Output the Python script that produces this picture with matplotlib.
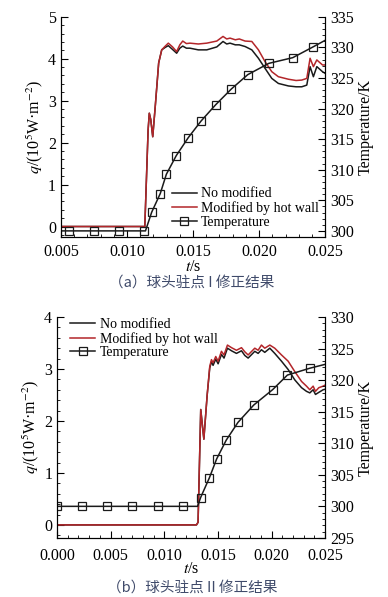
import matplotlib
matplotlib.use("Agg")
import matplotlib.pyplot as plt
from matplotlib.ticker import MultipleLocator, FormatStrFormatter

plt.rcParams['font.family'] = ['Liberation Serif', 'DejaVu Serif']
plt.rcParams['mathtext.fontset'] = 'stix'

# ---- panel (a) data ----
t_a = [0.005, 0.01135, 0.01160, 0.01169, 0.01180, 0.01195, 0.01215, 0.01240, 0.01263,
       0.01290, 0.01313, 0.01345, 0.01376, 0.01400, 0.01422, 0.01450, 0.01477, 0.01540,
       0.01604, 0.01680, 0.01727, 0.01755, 0.01780, 0.01820, 0.01850, 0.01894, 0.01945,
       0.01995, 0.02045, 0.02096, 0.02146, 0.02222, 0.02280, 0.02323, 0.02361, 0.02386,
       0.02411, 0.02437, 0.02480, 0.025]
q_hot_a = [0.0, 0.0, 2.30, 2.70, 2.55, 2.14, 2.90, 3.90, 4.21,
           4.30, 4.37, 4.28, 4.17, 4.33, 4.42, 4.36, 4.37, 4.35,
           4.37, 4.42, 4.53, 4.47, 4.49, 4.45, 4.47, 4.42, 4.41,
           4.21, 3.93, 3.69, 3.57, 3.51, 3.48, 3.49, 3.53, 4.01,
           3.81, 3.97, 3.85, 3.85]
q_no_a = [0.0, 0.0, 2.30, 2.70, 2.55, 2.14, 2.90, 3.90, 4.21,
          4.27, 4.31, 4.22, 4.13, 4.25, 4.30, 4.25, 4.25, 4.21,
          4.21, 4.28, 4.41, 4.35, 4.37, 4.33, 4.33, 4.29, 4.21,
          4.01, 3.77, 3.53, 3.41, 3.35, 3.33, 3.33, 3.37, 3.81,
          3.57, 3.81, 3.69, 3.65]
tT_a = [0.005, 0.00563, 0.00752, 0.00939, 0.01129, 0.0114, 0.01187, 0.01252, 0.01298,
        0.01373, 0.01464, 0.01561, 0.01672, 0.0179, 0.01914, 0.02074, 0.02255, 0.02407, 0.025]
T_a = [300, 300, 300, 300, 300, 300, 303.05, 306.1, 309.25,
       312.3, 315.24, 317.96, 320.63, 323.19, 325.53, 327.38, 328.31, 330.05, 331.14]
mark_a = [1, 2, 3, 4] + list(range(6, 18))

# ---- panel (b) data ----
t_b = [0.0, 0.0130, 0.01315, 0.01340, 0.01369, 0.01400, 0.01424, 0.01440, 0.01455,
       0.01480, 0.01502, 0.01533, 0.01557, 0.01589, 0.01627, 0.01673, 0.01720, 0.01751,
       0.01782, 0.01844, 0.01875, 0.01906, 0.01937, 0.01984, 0.02030, 0.02093, 0.02155,
       0.02217, 0.02280, 0.02326, 0.02357, 0.02388, 0.02410, 0.02441, 0.02481, 0.025]
q_hot_b = [0.0, 0.0, 0.05, 2.22, 1.65, 2.50, 3.05, 3.18, 3.12,
           3.24, 3.15, 3.34, 3.27, 3.46, 3.41, 3.36, 3.41, 3.33,
           3.27, 3.40, 3.36, 3.46, 3.40, 3.46, 3.40, 3.27, 3.15,
           2.95, 2.76, 2.67, 2.60, 2.67, 2.57, 2.64, 2.67, 2.69]
q_no_b = [0.0, 0.0, 0.05, 2.22, 1.65, 2.50, 3.02, 3.14, 3.07,
          3.19, 3.10, 3.28, 3.21, 3.40, 3.35, 3.30, 3.35, 3.26,
          3.21, 3.34, 3.30, 3.37, 3.32, 3.40, 3.30, 3.15, 2.99,
          2.79, 2.64, 2.57, 2.54, 2.60, 2.51, 2.55, 2.60, 2.61]
tT_b = [0.0, 0.00237, 0.00467, 0.0070, 0.00937, 0.01171, 0.0131, 0.01339, 0.0142,
        0.01488, 0.01578, 0.01687, 0.01834, 0.02011, 0.02148, 0.0236, 0.025]
T_b = [300, 300, 300, 300, 300, 300, 300, 301.4, 304.5,
       307.5, 310.5, 313.3, 316.05, 318.5, 320.8, 321.9, 322.5]
mark_b = [0, 1, 2, 3, 4, 5] + list(range(7, 16))

labels = ["No modified", "Modified by hot wall", "Temperature"]
captions = ["（a）球头驻点 I 修正结果", "（b）球头驻点 II 修正结果"]

black = "#1a1a1a"
red = "#b3262a"

fig = plt.figure(figsize=(3.88, 5.97), dpi=100)


def make_panel(rect, t, q_no, q_hot, tT, T, mark, xlim, ylim, tlim, leg_anchor, xpad, xlpad):
    ax = fig.add_axes(rect)
    l1, = ax.plot(t, q_no, color=black, lw=1.1)
    l2, = ax.plot(t, q_hot, color=red, lw=1.1)
    ax.set_xlim(*xlim)
    ax.set_ylim(*ylim)
    ax.xaxis.set_major_locator(MultipleLocator(0.005))
    ax.xaxis.set_minor_locator(MultipleLocator(0.001))
    ax.xaxis.set_major_formatter(FormatStrFormatter('%.3f'))
    ax.yaxis.set_major_locator(MultipleLocator(1))
    ax.yaxis.set_minor_locator(MultipleLocator(0.2))
    ax.set_xlabel(r"$t$/s", fontsize=11.5, labelpad=xlpad)
    ax.set_ylabel(r"$q$/(10$^5$W·m$^{-2}$)", fontsize=11.5, labelpad=2)
    ax.spines['top'].set_visible(False)

    ax2 = ax.twinx()
    l3, = ax2.plot(tT, T, color=black, lw=1.1, marker='s', ms=5.5, mfc='none',
                   mec=black, mew=0.9, markevery=mark)
    ax2.set_ylim(*tlim)
    ax2.yaxis.set_major_locator(MultipleLocator(5))
    ax2.yaxis.set_minor_locator(MultipleLocator(1))
    ax2.set_ylabel("Temperature/K", fontsize=11.5, labelpad=3)
    ax2.spines['top'].set_visible(False)

    ax.tick_params(which='both', direction='in', labelsize=11.5, top=False, right=False)
    ax.tick_params(axis='x', pad=xpad)
    ax.tick_params(which='major', length=5)
    ax.tick_params(which='minor', length=2.5)
    ax2.tick_params(which='both', direction='in', labelsize=11.5)
    ax2.tick_params(which='major', length=5)
    ax2.tick_params(which='minor', length=2.5)

    ax2.legend([l1, l2, l3], labels, loc='upper left', bbox_to_anchor=leg_anchor,
               frameon=False, fontsize=10, handlelength=1.8, handletextpad=0.3,
               labelspacing=0.05, borderpad=0, borderaxespad=0)
    return ax


make_panel([0.157, 0.603, 0.681, 0.369], t_a, q_no_a, q_hot_a, tT_a, T_a, mark_a,
           (0.005, 0.025), (-0.25, 5), (299, 335), (0.42, 0.225), 5, -1)
make_panel([0.147, 0.099, 0.691, 0.370], t_b, q_no_b, q_hot_b, tT_b, T_b, mark_b,
           (0.0, 0.025), (-0.25, 4), (295, 330), (0.05, 0.995), 7, -2)

for y, cap in zip([0.527, 0.016], captions):
    fig.text(0.495, y, cap, ha='center', va='center', fontsize=10.5, color="#3f4a6a",
             family=['Noto Sans CJK SC', 'DejaVu Sans'])

fig.savefig("out.png", dpi=100)
